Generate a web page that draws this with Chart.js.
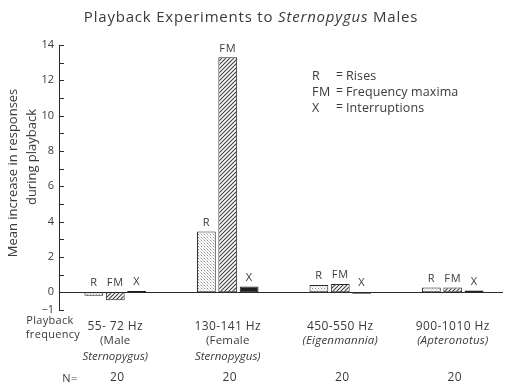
<!DOCTYPE html>
<html>
<head>
<meta charset="utf-8">
<script src="https://cdn.jsdelivr.net/npm/chart.js@4"></script>
<style>
  html, body { margin: 0; padding: 0; background: #fff; }
  #wrap { width: 509px; height: 388px; position: relative; }
</style>
</head>
<body>
<div id="wrap"><canvas id="chart"></canvas></div>
<script>
// Playback experiments - mean increase in responses per playback frequency

const categories = ['55- 72 Hz', '130-141 Hz', '450-550 Hz', '900-1010 Hz'];
const rises = [-0.2, 3.45, 0.42, 0.28];
const freqMaxima = [-0.45, 13.3, 0.47, 0.28];
const interruptions = [0.07, 0.33, -0.08, 0.1];
const barLabels = ['R', 'FM', 'X'];
// second and third line under each frequency: [text, italic]
const speciesLine1 = [[['(Male', false]], [['(Female', false]], [['(Eigenmannia)', true]], [['(Apteronotus)', true]]];
const speciesLine2 = [[['Sternopygus)', true]], [['Sternopygus)', true]], [], []];
const sampleSizes = [20, 20, 20, 20];
const legendRows = [['R', 'Rises'], ['FM', 'Frequency maxima'], ['X', 'Interruptions']];

const FONT = '"Open Sans", sans-serif';
const TEXT = '#3a3a3a';
const INK = '#2a2a2a';

function makePattern(size, draw) {
  const c = document.createElement('canvas');
  c.width = size; c.height = size;
  const g = c.getContext('2d');
  g.fillStyle = '#fff';
  g.fillRect(0, 0, size, size);
  draw(g);
  return c.getContext('2d').createPattern(c, 'repeat');
}

const dotFill = makePattern(3, g => {
  g.fillStyle = '#8c8c8c';
  g.fillRect(0, 0, 1, 1);
  g.fillStyle = '#d0d0d0';
  g.fillRect(1, 1, 1, 1);
  g.fillRect(2, 2, 1, 1);
});

const hatchFill = makePattern(4, g => {
  g.strokeStyle = '#3c3c3c';
  g.lineWidth = 1.1;
  g.beginPath();
  g.moveTo(-1, 5); g.lineTo(5, -1);
  g.moveTo(-1, 1); g.lineTo(1, -1);
  g.moveTo(3, 5); g.lineTo(5, 3);
  g.stroke();
});

function drawRuns(ctx, runs, x, y, size, align, spacing) {
  ctx.letterSpacing = (spacing || 0) + 'px';
  let total = 0;
  const widths = runs.map(r => {
    ctx.font = (r[1] ? 'italic ' : '') + size + 'px ' + FONT;
    const w = ctx.measureText(r[0]).width;
    total += w;
    return w;
  });
  let cx = align === 'center' ? x - total / 2 : (align === 'right' ? x - total : x);
  ctx.textAlign = 'left';
  ctx.textBaseline = 'middle';
  runs.forEach((r, i) => {
    ctx.font = (r[1] ? 'italic ' : '') + size + 'px ' + FONT;
    ctx.fillText(r[0], cx, y);
    cx += widths[i];
  });
  ctx.letterSpacing = '0px';
}

const decorations = {
  id: 'decorations',
  afterDraw(chart) {
    const ctx = chart.ctx;
    const area = chart.chartArea;
    const y = chart.scales.y;
    const x = chart.scales.x;
    ctx.save();

    // baseline at zero
    ctx.strokeStyle = INK;
    ctx.lineWidth = 1;
    const y0 = Math.round(y.getPixelForValue(0)) + 0.5;
    ctx.beginPath();
    ctx.moveTo(area.left, y0);
    ctx.lineTo(503, y0);
    ctx.stroke();

    // inward tick marks
    for (let v = -1; v <= 14; v++) {
      const py = Math.round(y.getPixelForValue(v)) + 0.5;
      ctx.beginPath();
      ctx.moveTo(area.left, py);
      ctx.lineTo(area.left + 5, py);
      ctx.stroke();
    }

    ctx.fillStyle = TEXT;

    // title
    drawRuns(ctx, [['Playback Experiments to ', false], ['Sternopygus', true], [' Males', false]], 251, 18, 15, 'center', 0.8);

    // y axis title, two lines
    ctx.save();
    ctx.translate(13, 173);
    ctx.rotate(-Math.PI / 2);
    drawRuns(ctx, [['Mean increase in responses', false]], 0, 0, 13, 'center');
    ctx.restore();
    ctx.save();
    ctx.translate(32, 157);
    ctx.rotate(-Math.PI / 2);
    drawRuns(ctx, [['during playback', false]], 0, 0, 13, 'center');
    ctx.restore();

    // labels above bars
    barLabels.forEach((lbl, i) => {
      chart.getDatasetMeta(i).data.forEach(el => {
        drawRuns(ctx, [[lbl, false]], el.x, Math.min(el.y, el.base) - 9, 11, 'center', 0.6);
      });
    });

    // legend
    legendRows.forEach((row, i) => {
      const ly = 76 + i * 16;
      drawRuns(ctx, [[row[0], false]], 312, ly, 12.5, 'left', 0.5);
      drawRuns(ctx, [['=', false]], 336, ly, 12, 'left');
      drawRuns(ctx, [[row[1], false]], 346, ly, 12.5, 'left', 0.1);
    });

    // category labels
    categories.forEach((c, i) => {
      const cx = x.getPixelForValue(i);
      drawRuns(ctx, [[c, false]], cx, 327, 12, 'center', 0.4);
      if (speciesLine1[i].length) drawRuns(ctx, speciesLine1[i], cx, 341, 11.5, 'center', 0.2);
      if (speciesLine2[i].length) drawRuns(ctx, speciesLine2[i], cx, 357, 11.5, 'center', 0);
      drawRuns(ctx, [[String(sampleSizes[i]), false]], cx + 2, 378, 12, 'center', 0.5);
    });

    drawRuns(ctx, [['Playback', false]], 50, 321, 11, 'center', 0.3);
    drawRuns(ctx, [['frequency', false]], 53, 335, 11, 'center', 0.3);
    drawRuns(ctx, [['N=', false]], 70, 379, 11, 'center', 0.5);

    ctx.restore();
  }
};

new Chart(document.getElementById('chart'), {
  type: 'bar',
  data: {
    labels: categories,
    datasets: [
      { label: 'Rises', data: rises, backgroundColor: dotFill, borderColor: INK, borderWidth: 1, borderSkipped: false },
      { label: 'Frequency maxima', data: freqMaxima, backgroundColor: hatchFill, borderColor: INK, borderWidth: 1, borderSkipped: false },
      { label: 'Interruptions', data: interruptions, backgroundColor: '#1e1e1e', borderColor: '#1e1e1e', borderWidth: 1, borderSkipped: false }
    ]
  },
  plugins: [decorations],
  options: {
    responsive: true,
    maintainAspectRatio: false,
    animation: false,
    devicePixelRatio: 1,
    layout: { padding: { top: 45, bottom: 78, left: 0, right: -5 } },
    plugins: { legend: { display: false }, title: { display: false }, tooltip: { enabled: false } },
    datasets: { bar: { categoryPercentage: 0.57, barPercentage: 0.88 } },
    scales: {
      x: { display: false },
      y: {
        min: -1,
        max: 14,
        afterFit: scale => { scale.width = 59; },
        border: { display: true, color: INK, width: 1 },
        grid: { display: false, drawTicks: false },
        ticks: {
          stepSize: 1,
          autoSkip: false,
          padding: 5,
          color: TEXT,
          font: { family: FONT, size: 11 },
          callback: v => (v === -1 ? '\u22121' : (v % 2 === 0 ? String(v) : ''))
        }
      }
    }
  }
});
</script>
</body>
</html>
